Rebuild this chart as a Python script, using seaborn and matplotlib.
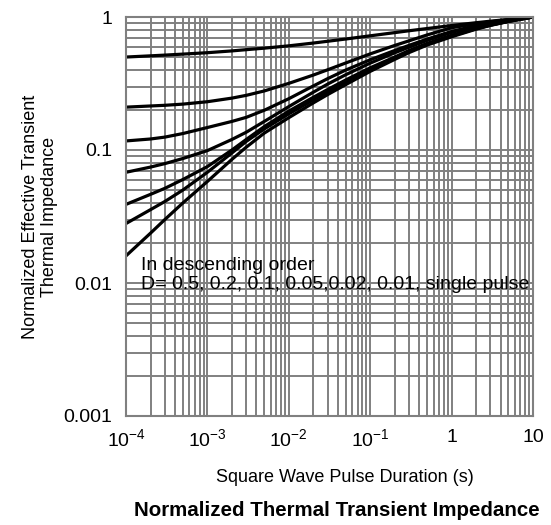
import numpy as np
import pandas as pd
import matplotlib
matplotlib.use("Agg")
import matplotlib.pyplot as plt
from matplotlib.ticker import LogLocator, NullFormatter
import seaborn as sns

# pulse duration (s) and normalized Zth
t = [1e-4, 2e-4, 3e-4, 5e-4, 1e-3, 2e-3, 3e-3, 5e-3, 1e-2, 2e-2, 3e-2, 5e-2,
     1e-1, 2e-1, 3e-1, 5e-1, 1, 2, 3, 5, 10]
z_d05 = [0.50, 0.5105, 0.517, 0.526, 0.539, 0.556, 0.568, 0.583, 0.607, 0.637, 0.657,
         0.683, 0.722, 0.763, 0.788, 0.819, 0.863, 0.906, 0.930, 0.959, 1.0]
z_d02 = [0.21, 0.2143, 0.2168, 0.2213, 0.2307, 0.2455, 0.2576, 0.278, 0.317, 0.366, 0.401,
         0.451, 0.528, 0.611, 0.662, 0.733, 0.83, 0.89, 0.92, 0.955, 1.0]
z_d01 = [0.117, 0.121, 0.125, 0.133, 0.1476, 0.164, 0.176, 0.199, 0.243, 0.303, 0.344,
         0.399, 0.477, 0.56, 0.612, 0.682, 0.778, 0.863, 0.906, 0.953, 1.0]
z_d005 = [0.068, 0.0744, 0.079, 0.0863, 0.099, 0.120, 0.136, 0.164, 0.212, 0.272, 0.313,
          0.368, 0.45, 0.538, 0.593, 0.667, 0.766, 0.849, 0.891, 0.937, 1.0]
z_d002 = [0.039, 0.0464, 0.0515, 0.060, 0.075, 0.100, 0.120, 0.150, 0.196, 0.249, 0.285,
          0.336, 0.415, 0.50, 0.56, 0.633, 0.73, 0.82, 0.87, 0.93, 1.0]
z_d001 = [0.028, 0.0356, 0.041, 0.050, 0.068, 0.095, 0.116, 0.144, 0.187, 0.238, 0.273,
          0.322, 0.40, 0.49, 0.55, 0.625, 0.72, 0.815, 0.868, 0.928, 1.0]
z_single = [0.016, 0.0237, 0.030, 0.040, 0.058, 0.085, 0.105, 0.134, 0.175, 0.226, 0.261,
            0.310, 0.39, 0.48, 0.54, 0.615, 0.71, 0.81, 0.865, 0.925, 1.0]

duty = ["0.5", "0.2", "0.1", "0.05", "0.02", "0.01", "single pulse"]
curves = [z_d05, z_d02, z_d01, z_d005, z_d002, z_d001, z_single]

x_ticks = [1e-4, 1e-3, 1e-2, 1e-1, 1, 10]
x_tick_labels = ["$10^{-4}$", "$10^{-3}$", "$10^{-2}$", "$10^{-1}$", "1", "10"]
y_ticks = [0.001, 0.01, 0.1, 1]
y_tick_labels = ["0.001", "0.01", "0.1", "1"]

df = pd.concat([pd.DataFrame({"t": t, "z": z, "D": d}) for d, z in zip(duty, curves)],
               ignore_index=True)

sns.set_style("white")
plt.rcParams["font.family"] = ["Liberation Sans", "DejaVu Sans"]
plt.rcParams["mathtext.default"] = "regular"
for k in ["text.color", "axes.labelcolor", "xtick.color", "ytick.color"]:
    plt.rcParams[k] = "black"

fig = plt.figure(figsize=(5.51, 5.25), dpi=100)
ax = fig.add_axes([126 / 551, 1 - 416 / 525, 407 / 551, 399 / 525])

sns.lineplot(data=df, x="t", y="z", hue="D", palette=["black"] * len(duty),
             legend=False, linewidth=2.3, estimator=None, ax=ax)

ax.set_xscale("log")
ax.set_yscale("log")
ax.set_xlim(1e-4, 10)
ax.set_ylim(1e-3, 1)
ax.set_xticks(x_ticks)
ax.set_xticklabels(x_tick_labels)
ax.set_yticks(y_ticks)
ax.set_yticklabels(y_tick_labels)
ax.xaxis.set_minor_locator(LogLocator(base=10, subs=range(2, 10), numticks=50))
ax.yaxis.set_minor_locator(LogLocator(base=10, subs=range(2, 10), numticks=50))
ax.xaxis.set_minor_formatter(NullFormatter())
ax.yaxis.set_minor_formatter(NullFormatter())

ax.set_axisbelow(True)
ax.grid(which="both", color="#808080", linewidth=1.4)
for s in ax.spines.values():
    s.set_color("#808080")
    s.set_linewidth(1.5)
ax.tick_params(which="both", length=0, labelsize=14)
ax.tick_params(axis="x", pad=9)
ax.tick_params(axis="y", pad=10)

ax.set_xlabel("Square Wave Pulse Duration (s)", fontsize=13)
ax.xaxis.set_label_coords(0.538, -0.132)
ax.set_ylabel("Normalized Effective Transient\nThermal Impedance", fontsize=13, linespacing=1.1)

ax.text(0.037, 0.353, "In descending order\nD= 0.5, 0.2, 0.1, 0.05,0.02, 0.01, single pulse",
        transform=ax.transAxes, fontsize=14, va="center", ha="left", linespacing=1.2)

fig.text(0.612, 1 - 511 / 525, "Normalized Thermal Transient Impedance",
         fontsize=14.8, fontweight="bold", ha="center", va="center")

fig.savefig("out.png", dpi=100)
